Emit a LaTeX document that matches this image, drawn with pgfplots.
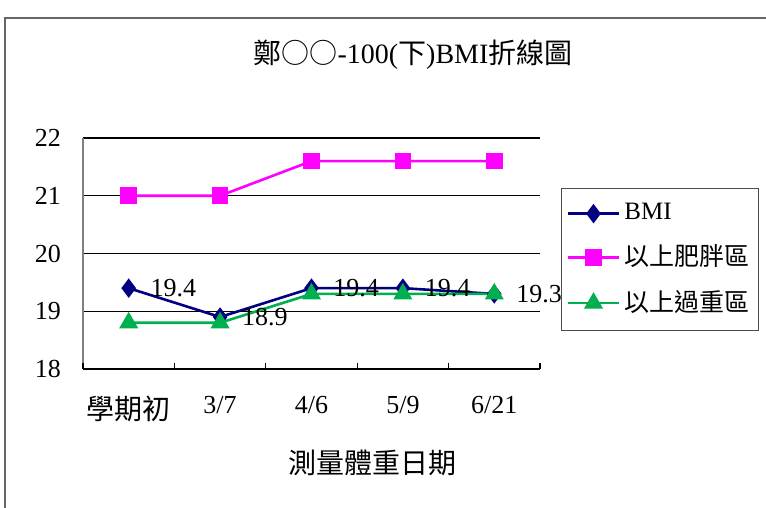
\documentclass[border=0pt]{standalone}
\usepackage{fontspec}
\setmainfont{Liberation Serif}
\newfontfamily\cjk{Noto Sans CJK TC}
\usepackage{pgfplots}
\pgfplotsset{compat=1.18}
\definecolor{bminavy}{RGB}{0,0,128}
\definecolor{fatmag}{RGB}{255,0,255}
\definecolor{overgreen}{RGB}{0,176,80}
\newcommand{\cjkbig}{\fontsize{14}{16}\selectfont\cjk}
\begin{document}
\fontsize{13}{15}\selectfont
\begin{tikzpicture}[x=0.5pt,y=0.5pt]
\useasboundingbox (0,0) rectangle (766,508);
\fill[white] (0,0) rectangle (766,508);
\draw[gray!80!black, line width=0.8pt] (5,-10) -- (5,490) -- (780,490);
\node[font=\fontsize{14}{16}\selectfont] at (413,453) {{\cjk 鄭○○}-100({\cjk 下})BMI{\cjk 折線圖}};
\node at (372,45) {\cjkbig 測量體重日期};
\begin{axis}[
  at={(41.5pt,69.5pt)}, anchor=south west,
  scale only axis, width=228.5pt, height=115.5pt,
  xmin=-0.5, xmax=4.5, ymin=18, ymax=22,
  axis x line*=bottom, axis y line*=left,
  axis line style={-},
  x axis line style={black, line width=0.6pt},
  y axis line style={gray, line width=0.6pt},
  xtick={0,1,2,3,4},
  xticklabels={{\cjkbig 學期初},3/7,4/6,5/9,6/21},
  extra x ticks={-0.5,0.5,1.5,2.5,3.5,4.5},
  extra x tick labels={},
  extra x tick style={major tick length=3pt, tick align=inside, tick style={black, line width=0.6pt}, grid=none},
  ytick={18,19,20,21,22},
  major tick length=0pt,
  ymajorgrids,
  grid style={black, line width=0.6pt},
  /pgf/number format/assume math mode=true,
  ticklabel style={font=\fontsize{13}{15}\selectfont},
  yticklabel style={xshift=-6.5pt},
  xticklabel style={yshift=-9pt},
  clip=false,
  legend style={at={(1.046,0.784)}, anchor=north west, draw=black!70, line width=0.6pt,
    font=\fontsize{12.5}{15}\selectfont, row sep=6.5pt, inner xsep=2.5pt, inner ysep=5.5pt,
    legend cell align=left},
  legend image code/.code={\draw[mark repeat=2,mark phase=2] plot coordinates {(0cm,0cm) (0.45cm,0cm) (0.9cm,0cm)};},
]
\addplot[bminavy, line width=1.3pt, mark=diamond*, mark size=3.8pt, mark options={solid, fill=bminavy},
  nodes near coords, point meta=explicit symbolic,
  every node near coord/.append style={anchor=west, xshift=6pt, text=black, font=\fontsize{13}{15}\selectfont}]
  coordinates {(0,19.4)[19.4] (1,18.9)[18.9] (2,19.4)[19.4] (3,19.4)[19.4] (4,19.3)[19.3]};
\addlegendentry{BMI}
\addplot[fatmag, line width=1.3pt, mark=square*, mark size=3.5pt, mark options={solid, fill=fatmag}]
  coordinates {(0,21) (1,21) (2,21.6) (3,21.6) (4,21.6)};
\addlegendentry{\cjk 以上肥胖區}
\addplot[overgreen, line width=1.3pt, mark=triangle*, mark size=4.2pt, mark options={solid, fill=overgreen}]
  coordinates {(0,18.8) (1,18.8) (2,19.3) (3,19.3) (4,19.3)};
\addlegendentry{\cjk 以上過重區}
\end{axis}
\end{tikzpicture}
\end{document}
